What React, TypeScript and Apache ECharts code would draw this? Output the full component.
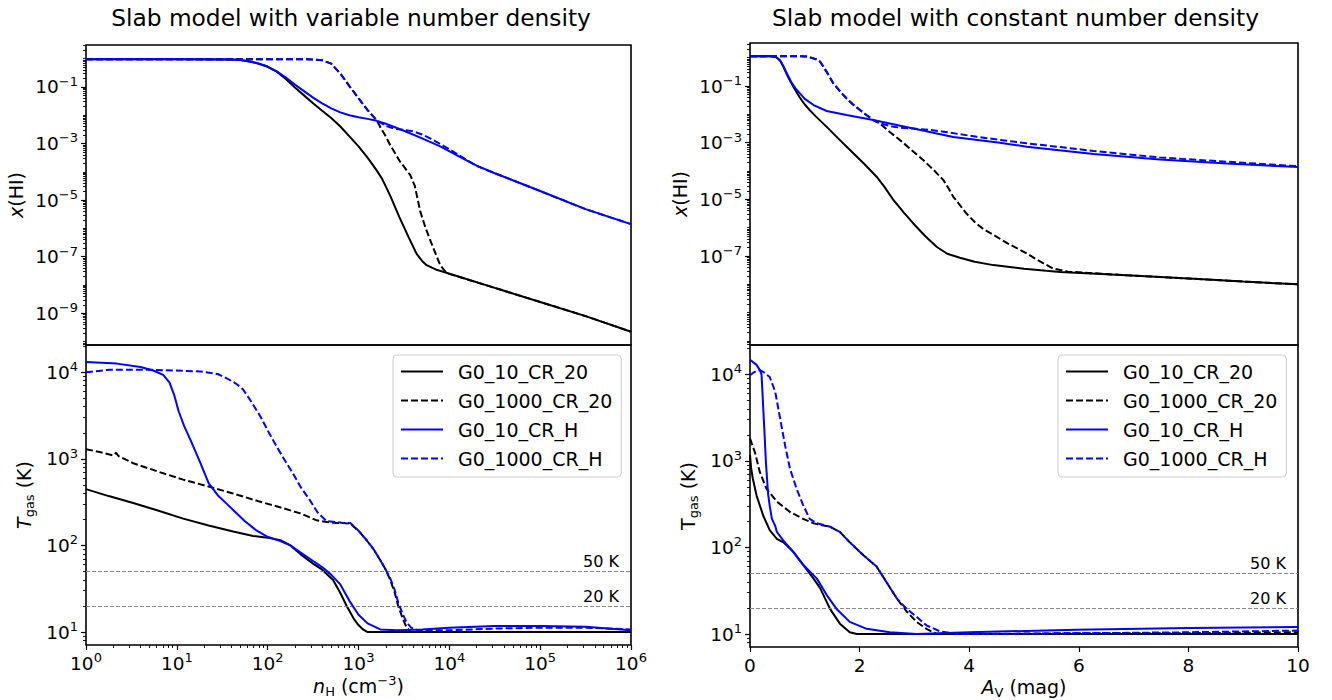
import React, { useEffect, useRef } from "react";
import * as echarts from "echarts";

const FONT = "DejaVu Sans";
const NAMES = ["G0_10_CR_20", "G0_1000_CR_20", "G0_10_CR_H", "G0_1000_CR_H"];
const COLORS = ["#000000", "#000000", "#0000ff", "#0000ff"];
const DASHED = [false, true, false, true];
const TITLES = ["Slab model with variable number density", "Slab model with constant number density"];

// ---------- Top-left: log10 x(HI) vs log10 n_H ----------
const tlNH_a = [0, 1.0, 1.6, 1.7, 1.8, 1.9, 2.0, 2.1, 2.2, 2.3, 2.4, 2.5, 2.6, 2.7, 2.8, 2.9, 3.0, 3.1, 3.2, 3.26, 3.35, 3.45, 3.55, 3.64, 3.7, 3.75, 3.85, 3.95, 4.5, 5.0, 5.5, 6.0];
const tlX_a = [-0.02, -0.02, -0.03, -0.05, -0.1, -0.18, -0.29, -0.46, -0.72, -1.02, -1.3, -1.58, -1.84, -2.1, -2.4, -2.75, -3.1, -3.5, -3.95, -4.25, -4.85, -5.6, -6.3, -6.9, -7.15, -7.3, -7.45, -7.55, -8.1, -8.6, -9.1, -9.65];
const tlNH_b = [0, 1, 2, 2.4, 2.5, 2.6, 2.7, 2.8, 2.9, 3.0, 3.1, 3.2, 3.25, 3.3, 3.35, 3.45, 3.57, 3.62, 3.68, 3.74, 3.8, 3.9, 3.97, 4.5, 5, 5.5, 6];
const tlX_b = [-0.02, -0.02, -0.02, -0.02, -0.03, -0.06, -0.18, -0.53, -0.97, -1.4, -1.82, -2.18, -2.48, -2.75, -3.06, -3.6, -4.12, -4.5, -5.4, -6.0, -6.5, -7.3, -7.58, -8.1, -8.6, -9.1, -9.65];
const tlNH_c = [0, 1.0, 1.6, 1.7, 1.8, 1.9, 2.0, 2.1, 2.2, 2.3, 2.4, 2.5, 2.6, 2.7, 2.8, 2.9, 3.0, 3.1, 3.2, 3.3, 3.5, 3.7, 3.9, 4.1, 4.3, 4.5, 5.0, 5.5, 6.0];
const tlX_c = [-0.02, -0.02, -0.03, -0.05, -0.1, -0.17, -0.28, -0.45, -0.67, -0.92, -1.15, -1.38, -1.58, -1.76, -1.9, -2.0, -2.07, -2.13, -2.2, -2.3, -2.55, -2.82, -3.1, -3.45, -3.78, -4.05, -4.68, -5.32, -5.85];
const tlNH_d = [0, 1.0, 2.0, 2.4, 2.5, 2.6, 2.7, 2.8, 2.9, 3.0, 3.1, 3.2, 3.3, 3.4, 3.5, 3.6, 3.7, 3.8, 3.9, 4.0, 4.1, 4.2, 4.3, 4.5, 5.0, 5.5, 6.0];
const tlX_d = [-0.02, -0.02, -0.02, -0.02, -0.03, -0.06, -0.18, -0.53, -0.97, -1.4, -1.82, -2.18, -2.38, -2.48, -2.52, -2.57, -2.68, -2.84, -3.02, -3.2, -3.4, -3.6, -3.79, -4.05, -4.68, -5.32, -5.85];

// ---------- Bottom-left: log10 T_gas vs log10 n_H ----------
const blNH_a = [0, 0.25, 0.52, 0.8, 1.07, 1.35, 1.62, 1.84, 2.0, 2.14, 2.25, 2.36, 2.5, 2.6, 2.72, 2.8, 2.87, 2.95, 3.0, 3.05, 3.1, 4.0, 5.0, 6.0];
const blT_a = [2.65, 2.57, 2.49, 2.4, 2.31, 2.23, 2.16, 2.11, 2.09, 2.06, 2.0, 1.9, 1.79, 1.72, 1.6, 1.45, 1.3, 1.15, 1.08, 1.03, 1.0, 1.0, 1.0, 1.0];
const blNH_b = [0, 0.15, 0.3, 0.33, 0.36, 0.52, 0.8, 1.07, 1.35, 1.62, 1.9, 2.17, 2.36, 2.54, 2.65, 2.75, 2.83, 2.91, 3.0, 3.09, 3.17, 3.24, 3.3, 3.35, 3.4, 3.44, 3.49, 3.53, 3.58, 4.0, 5.0, 6.0];
const blT_b = [3.11, 3.08, 3.04, 3.07, 3.03, 2.95, 2.85, 2.76, 2.68, 2.6, 2.51, 2.43, 2.37, 2.29, 2.27, 2.26, 2.26, 2.25, 2.17, 2.06, 1.95, 1.83, 1.72, 1.6, 1.45, 1.29, 1.15, 1.05, 1.0, 1.0, 1.0, 1.0];
const blNH_c = [0, 0.34, 0.6, 0.74, 0.85, 0.92, 0.97, 1.02, 1.08, 1.15, 1.26, 1.35, 1.45, 1.55, 1.62, 1.75, 1.88, 2.0, 2.14, 2.25, 2.36, 2.5, 2.6, 2.7, 2.8, 2.9, 3.0, 3.1, 3.24, 3.42, 3.7, 4.0, 4.5, 5.0, 5.5, 6.0];
const blT_c = [4.12, 4.1, 4.06, 4.02, 3.97, 3.88, 3.74, 3.55, 3.38, 3.22, 2.95, 2.72, 2.58, 2.48, 2.41, 2.28, 2.17, 2.1, 2.05, 2.0, 1.92, 1.82, 1.75, 1.66, 1.55, 1.36, 1.2, 1.1, 1.03, 1.02, 1.03, 1.05, 1.07, 1.07, 1.06, 1.02];
const blNH_d = [0, 0.26, 0.7, 1.26, 1.45, 1.55, 1.65, 1.73, 1.82, 1.92, 2.01, 2.1, 2.19, 2.28, 2.36, 2.46, 2.55, 2.65, 2.75, 2.83, 2.91, 3.0, 3.09, 3.17, 3.24, 3.3, 3.35, 3.4, 3.44, 3.49, 3.53, 3.58, 3.65, 4.0, 4.5, 5.0, 5.5, 6.0];
const blT_d = [4.0, 4.03, 4.03, 4.01, 3.98, 3.93, 3.87, 3.8, 3.66, 3.49, 3.31, 3.14, 2.98, 2.83, 2.68, 2.53, 2.38, 2.28, 2.27, 2.26, 2.26, 2.17, 2.06, 1.95, 1.83, 1.72, 1.62, 1.48, 1.33, 1.2, 1.11, 1.05, 1.02, 1.02, 1.04, 1.05, 1.05, 1.03];

// ---------- Top-right: log10 x(HI) vs A_V ----------
const trAV_a = [0, 0.4, 0.48, 0.55, 0.61, 0.7, 0.79, 0.9, 1.0, 1.09, 1.2, 1.4, 1.6, 1.89, 2.1, 2.31, 2.45, 2.62, 2.8, 2.98, 3.2, 3.41, 3.6, 3.83, 4.1, 4.44, 5.0, 5.66, 6.87, 8.09, 9.0, 10];
const trX_a = [0.05, 0.05, 0.02, -0.1, -0.32, -0.7, -1.02, -1.38, -1.65, -1.85, -2.07, -2.44, -2.83, -3.38, -3.78, -4.2, -4.55, -5.03, -5.45, -5.85, -6.3, -6.68, -6.92, -7.06, -7.2, -7.32, -7.45, -7.56, -7.68, -7.8, -7.9, -8.0];
const trAV_b = [0, 0.9, 1.03, 1.12, 1.2, 1.28, 1.4, 1.52, 1.64, 1.76, 1.88, 2.01, 2.13, 2.25, 2.37, 2.55, 2.74, 2.95, 3.16, 3.35, 3.53, 3.62, 3.71, 3.83, 3.95, 4.1, 4.26, 4.44, 4.7, 5.05, 5.3, 5.53, 5.8, 6.87, 8.09, 9.0, 10];
const trX_b = [0.05, 0.05, 0.04, 0.0, -0.05, -0.14, -0.5, -0.9, -1.18, -1.43, -1.65, -1.85, -2.03, -2.2, -2.32, -2.62, -2.91, -3.26, -3.61, -3.96, -4.32, -4.6, -4.91, -5.2, -5.5, -5.8, -6.05, -6.25, -6.55, -6.91, -7.2, -7.44, -7.55, -7.68, -7.8, -7.9, -8.0];
const trAV_c = [0, 0.4, 0.48, 0.55, 0.61, 0.67, 0.75, 0.83, 0.91, 1.0, 1.16, 1.4, 1.76, 2.25, 2.98, 3.71, 4.56, 5.05, 6.27, 7.48, 8.7, 10];
const trX_c = [0.05, 0.05, 0.02, -0.1, -0.3, -0.55, -0.85, -1.08, -1.26, -1.45, -1.67, -1.88, -2.02, -2.2, -2.5, -2.8, -3.0, -3.14, -3.4, -3.59, -3.73, -3.86];
const trAV_d = [0, 0.9, 1.03, 1.12, 1.2, 1.28, 1.4, 1.52, 1.64, 1.76, 1.88, 2.01, 2.13, 2.25, 2.4, 2.62, 2.8, 2.98, 3.25, 3.53, 3.83, 4.14, 4.56, 5.05, 6.27, 7.48, 8.7, 10];
const trX_d = [0.05, 0.05, 0.04, 0.0, -0.05, -0.14, -0.5, -0.9, -1.18, -1.43, -1.65, -1.85, -2.03, -2.2, -2.33, -2.44, -2.48, -2.5, -2.54, -2.61, -2.7, -2.79, -2.9, -3.02, -3.29, -3.52, -3.67, -3.83];

// ---------- Bottom-right: log10 T_gas vs A_V ----------
const brAV_a = [0, 0.02, 0.05, 0.12, 0.24, 0.36, 0.49, 0.61, 0.79, 0.97, 1.16, 1.28, 1.46, 1.64, 1.82, 1.95, 4, 6, 8, 10];
const brT_a = [3.07, 2.92, 2.8, 2.6, 2.37, 2.2, 2.1, 2.06, 1.95, 1.8, 1.64, 1.53, 1.29, 1.12, 1.02, 1.0, 1.0, 1.0, 1.0, 1.0];
const brAV_b = [0, 0.09, 0.18, 0.3, 0.49, 0.73, 0.97, 1.16, 1.22, 1.46, 1.64, 1.82, 2.07, 2.31, 2.49, 2.68, 2.86, 3.04, 3.22, 3.41, 4, 6, 8, 10];
const brT_b = [3.26, 3.1, 2.87, 2.68, 2.53, 2.41, 2.33, 2.28, 2.27, 2.24, 2.18, 2.06, 1.91, 1.78, 1.6, 1.41, 1.26, 1.14, 1.06, 1.0, 1.0, 1.01, 1.01, 1.02];
const brAV_c = [0, 0.12, 0.18, 0.21, 0.23, 0.26, 0.29, 0.33, 0.36, 0.4, 0.46, 0.49, 0.61, 0.79, 0.97, 1.22, 1.4, 1.58, 1.82, 2.13, 2.55, 3.04, 4, 5.96, 8, 10];
const brT_c = [4.17, 4.11, 4.05, 4.0, 3.76, 3.38, 2.99, 2.62, 2.48, 2.33, 2.25, 2.18, 2.08, 1.95, 1.8, 1.64, 1.45, 1.29, 1.14, 1.06, 1.02, 1.0, 1.02, 1.05, 1.07, 1.08];
const brAV_d = [0, 0.06, 0.12, 0.18, 0.24, 0.36, 0.46, 0.55, 0.64, 0.73, 0.85, 0.97, 1.09, 1.22, 1.46, 1.64, 1.82, 2.07, 2.31, 2.49, 2.68, 2.86, 3.04, 3.22, 3.47, 3.77, 4.5, 6.26, 8, 10];
const brT_d = [3.99, 4.02, 4.04, 4.05, 4.03, 3.97, 3.8, 3.49, 3.18, 2.91, 2.68, 2.49, 2.33, 2.28, 2.24, 2.18, 2.06, 1.91, 1.78, 1.6, 1.41, 1.29, 1.2, 1.1, 1.03, 1.0, 1.0, 1.01, 1.02, 1.04];

// reference temperatures (K)
const refTemps = [50, 20];

// tick exponents
const tlYLabels = [-9, -7, -5, -3, -1];
const trYLabels = [-7, -5, -3, -1];
const tYLabels = [1, 2, 3, 4];
const nhXLabels = [0, 1, 2, 3, 4, 5, 6];

const zip = (xs: number[], ys: number[]) => xs.map((x, i) => [x, ys[i]]);

function minorTicks(lo: number, hi: number, majors: number[]) {
  const out: number[] = [];
  for (let n = Math.floor(lo) - 1; n <= Math.ceil(hi); n++) {
    for (let k = 1; k <= 9; k++) {
      const v = n + Math.log10(k);
      if (v > lo && v < hi && !(k === 1 && majors.includes(n))) out.push(v);
    }
  }
  return out;
}

const TICK_FS = 18.5;
const SUP_FS = 13;
const baseRich = {
  b: { fontSize: TICK_FS, fontFamily: FONT, color: "#000", lineHeight: 24 },
  s: { fontSize: SUP_FS, fontFamily: FONT, color: "#000", verticalAlign: "top", lineHeight: 13 },
};
const logFmt = (v: number) => {
  const e = Math.round(v);
  return `{b|10}{s|${e < 0 ? "\u2212" + -e : e}}`;
};
const nameRich = {
  i: { fontSize: 19, fontFamily: FONT, fontStyle: "italic", color: "#000", lineHeight: 24 },
  n: { fontSize: 19, fontFamily: FONT, color: "#000", lineHeight: 24 },
  sub: { fontSize: 13, fontFamily: FONT, color: "#000", verticalAlign: "bottom", lineHeight: 13 },
  sup: { fontSize: 13, fontFamily: FONT, color: "#000", verticalAlign: "top", lineHeight: 13 },
};
const tickLine = { color: "#000", width: 1.2 };

function majorY(gridIndex: number, min: number, max: number, labels: number[], name: string, nameGap: number) {
  return {
    type: "value", gridIndex, position: "left", min, max,
    axisLine: { show: false }, splitLine: { show: false },
    axisTick: { show: true, length: 5, customValues: labels, lineStyle: tickLine },
    axisLabel: { customValues: labels, formatter: logFmt, margin: 8, rich: baseRich },
    name, nameLocation: "middle", nameRotate: 90, nameGap,
    nameTextStyle: { fontSize: 19, fontFamily: FONT, color: "#000", rich: nameRich },
  };
}
function minorY(gridIndex: number, min: number, max: number, majors: number[]) {
  return {
    type: "value", gridIndex, position: "left", min, max,
    axisLine: { show: false }, splitLine: { show: false }, axisLabel: { show: false },
    axisTick: { show: true, length: 3, customValues: minorTicks(min, max, majors), lineStyle: { color: "#000", width: 0.9 } },
  };
}

const LIMS = {
  tl: [-10.12, 0.48],
  bl: [0.85, 4.315],
  tr: [-10.14, 0.52],
  br: [0.85, 4.34],
};

function buildOption() {
  const panels = [
    { xs: [tlNH_a, tlNH_b, tlNH_c, tlNH_d], ys: [tlX_a, tlX_b, tlX_c, tlX_d] },
    { xs: [blNH_a, blNH_b, blNH_c, blNH_d], ys: [blT_a, blT_b, blT_c, blT_d] },
    { xs: [trAV_a, trAV_b, trAV_c, trAV_d], ys: [trX_a, trX_b, trX_c, trX_d] },
    { xs: [brAV_a, brAV_b, brAV_c, brAV_d], ys: [brT_a, brT_b, brT_c, brT_d] },
  ];
  const series: any[] = [];
  panels.forEach((p, pi) => {
    for (let k = 0; k < 4; k++) {
      const s: any = {
        type: "line", name: NAMES[k], xAxisIndex: pi, yAxisIndex: pi,
        data: zip(p.xs[k], p.ys[k]), symbol: "none", showSymbol: false, silent: true,
        lineStyle: { color: COLORS[k], width: 2, type: DASHED[k] ? [7, 3] : "solid" },
        itemStyle: { color: COLORS[k] },
        z: 3 + k,
      };
      if (k === 0 && (pi === 1 || pi === 3)) {
        s.markLine = {
          symbol: "none", silent: true, animation: false,
          lineStyle: { type: [4, 2], color: "#888888", width: 1 },
          label: { position: "insideEndTop", fontSize: 16, fontFamily: FONT, color: "#000", distance: [12, 2] },
          data: refTemps.map((t) => ({ yAxis: Math.log10(t), label: { formatter: `${t} K` } })),
        };
      }
      series.push(s);
    }
  });

  const grids = [
    { left: 86, top: 45, width: 545, height: 300 },
    { left: 86, top: 345, width: 545, height: 300 },
    { left: 750, top: 43, width: 548, height: 302 },
    { left: 750, top: 345, width: 548, height: 302 },
  ].map((g) => ({ ...g, show: true, borderColor: "#000", borderWidth: 1.6, backgroundColor: "transparent", containLabel: false, outerBoundsMode: "none" }));

  const hiddenX = (gridIndex: number, max: number) => ({ type: "value", gridIndex, min: 0, max, show: false, splitLine: { show: false } });

  const xAxis = [
    hiddenX(0, 6),
    {
      type: "value", gridIndex: 1, position: "bottom", min: 0, max: 6,
      axisLine: { show: false }, splitLine: { show: false },
      axisTick: { show: true, length: 5, customValues: nhXLabels, lineStyle: tickLine },
      axisLabel: { customValues: nhXLabels, formatter: logFmt, margin: 6, rich: baseRich },
      name: "{i|n}{sub|H}{n| (cm}{sup|\u22123}{n|)}", nameLocation: "middle", nameGap: 29,
      nameTextStyle: { fontSize: 19, fontFamily: FONT, color: "#000", rich: nameRich },
    },
    hiddenX(2, 10),
    {
      type: "value", gridIndex: 3, position: "bottom", min: 0, max: 10, interval: 2,
      axisLine: { show: false }, splitLine: { show: false },
      axisTick: { show: true, length: 5, lineStyle: tickLine },
      axisLabel: { fontSize: TICK_FS, fontFamily: FONT, color: "#000", margin: 9 },
      name: "{i|A}{sub|V}{n| (mag)}", nameLocation: "middle", nameGap: 28,
      nameTextStyle: { fontSize: 19, fontFamily: FONT, color: "#000", rich: nameRich },
    },
    {
      type: "value", gridIndex: 1, position: "bottom", min: 0, max: 6,
      axisLine: { show: false }, splitLine: { show: false }, axisLabel: { show: false },
      axisTick: { show: true, length: 3, customValues: minorTicks(0, 6, nhXLabels), lineStyle: { color: "#000", width: 0.9 } },
    },
  ];

  const yAxis = [
    majorY(0, LIMS.tl[0], LIMS.tl[1], tlYLabels, "{i|x}{n|(HI)}", 58),
    majorY(1, LIMS.bl[0], LIMS.bl[1], tYLabels, "{i|T}{sub|gas}{n| (K)}", 50),
    majorY(2, LIMS.tr[0], LIMS.tr[1], trYLabels, "{i|x}{n|(HI)}", 58),
    majorY(3, LIMS.br[0], LIMS.br[1], tYLabels, "{n|T}{sub|gas}{n| (K)}", 50),
    minorY(0, LIMS.tl[0], LIMS.tl[1], tlYLabels),
    minorY(1, LIMS.bl[0], LIMS.bl[1], tYLabels),
    minorY(2, LIMS.tr[0], LIMS.tr[1], trYLabels),
    minorY(3, LIMS.br[0], LIMS.br[1], tYLabels),
  ];

  const legendBase = {
    top: 355, orient: "vertical", data: NAMES,
    itemWidth: 42, itemHeight: 14, itemGap: 10,
    padding: [7, 9, 9, 7],
    backgroundColor: "#ffffff", borderColor: "#cccccc", borderWidth: 1, borderRadius: 4,
    itemStyle: { opacity: 0 },
    textStyle: { fontSize: 19, fontFamily: FONT, color: "#000", lineHeight: 19, padding: [0, 0, 0, 10] },
    selectedMode: false,
  };

  const titleStyle = (text: string) => ({ text, fontSize: 23.3, fontFamily: FONT, fill: "#000", align: "center", verticalAlign: "middle" });

  return {
    animation: false,
    backgroundColor: "#ffffff",
    grid: grids,
    xAxis,
    yAxis,
    series,
    legend: [
      { ...legendBase, left: 393 },
      { ...legendBase, left: 1058 },
    ],
    graphic: [
      { type: "text", x: 351, y: 17.5, style: titleStyle(TITLES[0]) },
      { type: "text", x: 1015.5, y: 17.5, style: titleStyle(TITLES[1]) },
    ],
  };
}

export default function App() {
  const ref = useRef<HTMLDivElement>(null);
  useEffect(() => {
    if (!ref.current) return;
    const chart = echarts.init(ref.current, undefined, { renderer: "svg" });
    chart.setOption(buildOption() as any);
    return () => chart.dispose();
  }, []);
  return <div ref={ref} style={{ position: "fixed", left: 0, top: 0, width: 1332, height: 700, background: "#fff" }} />;
}
